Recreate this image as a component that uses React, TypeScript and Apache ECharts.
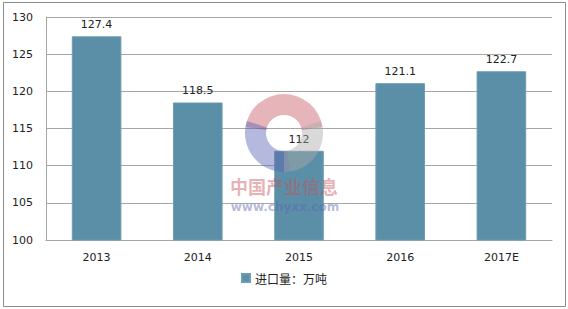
import React, { useEffect, useRef } from "react";
import * as echarts from "echarts";

const categories = ["2013", "2014", "2015", "2016", "2017E"];
const values = [127.4, 118.5, 112, 121.1, 122.7];
const seriesName = "进口量：万吨";
const yMin = 100;
const yMax = 130;
const yInterval = 5;

export default function App() {
  const ref = useRef<HTMLDivElement>(null);
  useEffect(() => {
    document.body.style.margin = "0";
    const chart = echarts.init(ref.current!, undefined, { renderer: "svg" });
    const cx = 284;
    const cy = 133;
    chart.setOption({
      animation: false,
      backgroundColor: "#ffffff",
      textStyle: { fontFamily: "DejaVu Sans" },
      grid: { left: 46, right: 16, top: 17, bottom: 69, containLabel: false },
      legend: {
        data: [seriesName],
        bottom: 20,
        left: "center",
        icon: "rect",
        itemWidth: 8,
        itemHeight: 8,
        itemGap: 6,
        textStyle: { fontSize: 12, color: "#222", fontFamily: "Noto Sans CJK SC" },
      },
      xAxis: {
        type: "category",
        data: categories,
        axisLine: { lineStyle: { color: "#a6a6a6" } },
        axisTick: { show: false },
        axisLabel: { fontSize: 11, color: "#222", margin: 12 },
      },
      yAxis: {
        type: "value",
        min: yMin,
        max: yMax,
        interval: yInterval,
        axisLine: { show: true, lineStyle: { color: "#a6a6a6" } },
        axisTick: { show: false },
        splitLine: { lineStyle: { color: "#a6a6a6" } },
        axisLabel: { fontSize: 11, color: "#222", margin: 13 },
      },
      series: [
        {
          name: seriesName,
          type: "bar",
          data: values,
          barWidth: "49%",
          itemStyle: { color: "#5b8fa7", borderColor: "#6d9db3", borderWidth: 1 },
          label: { show: true, position: "top", fontSize: 11, color: "#222", distance: 6 },
          z: 2,
        },
      ],
      graphic: [
        {
          type: "rect",
          shape: { x: 3.5, y: 2.5, width: 562, height: 304 },
          style: { fill: "none", stroke: "#8c8c8c", lineWidth: 1 },
          z: 0,
          silent: true,
        },
        {
          type: "sector",
          shape: { cx, cy, r: 39, r0: 18, startAngle: Math.PI * 1.05, endAngle: Math.PI * 1.95 },
          style: { fill: "rgba(200,90,100,0.45)" },
          z: 100,
          silent: true,
        },
        {
          type: "sector",
          shape: { cx, cy, r: 39, r0: 18, startAngle: Math.PI * 0.45, endAngle: Math.PI * 1.1 },
          style: { fill: "rgba(90,100,180,0.45)" },
          z: 100,
          silent: true,
        },
        {
          type: "sector",
          shape: { cx, cy, r: 39, r0: 18, startAngle: Math.PI * -0.1, endAngle: Math.PI * 0.5 },
          style: { fill: "rgba(170,170,170,0.45)" },
          z: 100,
          silent: true,
        },
        {
          type: "text",
          x: 284,
          y: 186,
          style: {
            text: "中国产业信息",
            fontSize: 18,
            fontWeight: "bold",
            fontFamily: "Noto Sans CJK SC",
            fill: "rgba(200,80,90,0.45)",
            align: "center",
            verticalAlign: "middle",
          },
          z: 100,
          silent: true,
        },
        {
          type: "text",
          x: 285,
          y: 207,
          style: {
            text: "www.chyxx.com",
            fontSize: 12,
            fontWeight: "bold",
            fontFamily: "DejaVu Sans",
            fill: "rgba(90,100,180,0.45)",
            align: "center",
            verticalAlign: "middle",
          },
          z: 100,
          silent: true,
        },
      ],
    });
    return () => chart.dispose();
  }, []);
  return <div ref={ref} style={{ width: 568, height: 309 }} />;
}
